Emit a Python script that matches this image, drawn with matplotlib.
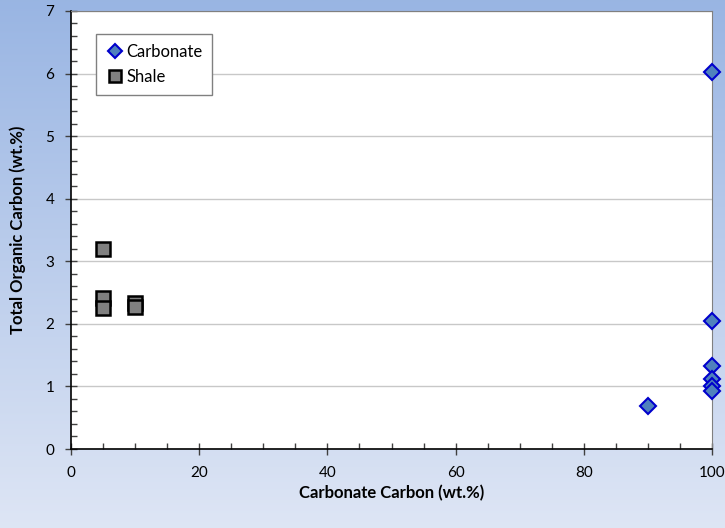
import numpy as np
import matplotlib.pyplot as plt
from matplotlib.ticker import MultipleLocator

plt.rcParams['font.family'] = ['Lato', 'DejaVu Sans']

carb_x = [100, 100, 100, 100, 100, 100, 90]
carb_y = [6.03, 2.05, 1.33, 1.12, 1.0, 0.93, 0.69]
shale_x = [5, 5, 5, 10, 10]
shale_y = [3.2, 2.41, 2.26, 2.34, 2.27]

fig = plt.figure(figsize=(7.25, 5.28), dpi=100)

# gradient background
bg = fig.add_axes([0, 0, 1, 1], zorder=-10)
top = np.array([0.60, 0.71, 0.89])
bot = np.array([0.87, 0.90, 0.96])
t = np.linspace(0, 1, 256)[:, None]
grad = top * (1 - t) + bot * t
bg.imshow(grad[:, None, :], aspect='auto', extent=[0, 1, 0, 1])
bg.axis('off')

ax = fig.add_axes([0.098, 0.1496, 0.884, 0.8296])
ax.set_facecolor('white')
ax.plot(carb_x, carb_y, 'D', ms=8.5, mfc='#4f81bd', mec='#0000cc', mew=1.5,
        label='Carbonate', clip_on=False, zorder=5)
ax.plot(shale_x, shale_y, 's', ms=9.5, mfc='#808080', mec='black', mew=1.8,
        label='Shale', clip_on=False, zorder=5)

ax.set_xlim(0, 100)
ax.set_ylim(0, 7)
ax.xaxis.set_major_locator(MultipleLocator(20))
ax.xaxis.set_minor_locator(MultipleLocator(5))
ax.yaxis.set_major_locator(MultipleLocator(1))
ax.yaxis.set_minor_locator(MultipleLocator(0.2))
ax.tick_params(which='major', direction='inout', length=8, width=1, color='#404040',
               labelsize=11, pad=8)
ax.tick_params(which='minor', direction='in', length=4, width=1, color='#404040')
ax.grid(axis='y', which='major', color='#c8c8c8', lw=1)
ax.set_axisbelow(True)
for s in ['left', 'bottom']:
    ax.spines[s].set_color('black')
    ax.spines[s].set_linewidth(1.2)
for s in ['top', 'right']:
    ax.spines[s].set_color('#808080')

ax.set_xlabel('Carbonate Carbon (wt.%)', fontsize=12, fontweight='bold', labelpad=4)
ax.set_ylabel('Total Organic Carbon (wt.%)', fontsize=12, fontweight='bold', labelpad=14)

leg = ax.legend(loc='upper left', bbox_to_anchor=(0.039, 0.947), borderaxespad=0,
                fancybox=False, framealpha=1, edgecolor='#808080', fontsize=12,
                handletextpad=0.1, handlelength=1.1, borderpad=0.6, labelspacing=0.5,
                markerscale=0.85)

fig.savefig('out.png', dpi=100)
